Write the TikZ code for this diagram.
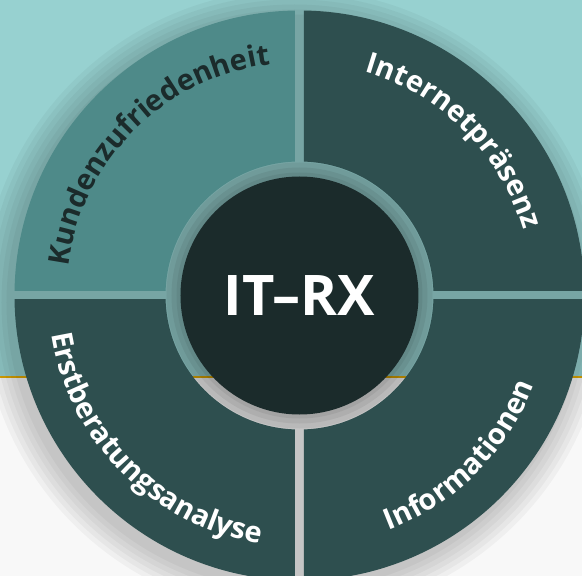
\documentclass[tikz,border=0pt]{standalone}
\usepackage{fontspec}
\setmainfont{Open Sans}
\usetikzlibrary{decorations.text}

\definecolor{bgteal}{HTML}{97D1D0}
\definecolor{paper}{HTML}{F8F8F8}
\definecolor{goldline}{HTML}{E0A800}
\definecolor{quadlight}{HTML}{4E8A89}
\definecolor{quaddark}{HTML}{2E4F4F}
\definecolor{hubcol}{HTML}{1B2B2B}

\newcommand\ringfont{\bfseries\fontsize{29pt}{29pt}\selectfont}

\tikzset{
  hub/.style={circle, fill=hubcol, minimum size=238pt, inner sep=0pt, text=white,
    font=\bfseries\fontsize{56pt}{56pt}\selectfont},
  ringtext/.style={decorate, decoration={text along path, text align=center, text color=#1}}
}

\begin{document}
\begin{tikzpicture}[x=1pt, y=1pt]
                \useasboundingbox (-299.5,-280.5) rectangle (282.5,295.5);
                \clip (-299.5,-280.5) rectangle (282.5,295.5);

                % --------
                % Background
                % --------
                \fill[bgteal] (-299.5,-81.5) rectangle (282.5,295.5);
                \fill[paper] (-299.5,-280.5) rectangle (282.5,-81.5);
                \draw[goldline, line width=2.5pt] (-299.5,-81.5) -- (282.5,-81.5);

                % soft shadow under the wheel
                \foreach \r in {313,308,...,288}
                    \fill[black, opacity=0.035] (-5,-7) circle[radius=\r pt];
                \foreach \r in {133,128,123}
                    \fill[black, opacity=0.06] (0,0) circle[radius=\r pt];

                % --------
                % Quadrants
                % --------
                \foreach \sx/\sy/\col in {-1/1/quadlight, 1/1/quaddark, -1/-1/quaddark, 1/-1/quaddark} {
                    \begin{scope}
                        \clip (\sx*4.5, \sy*4.5) rectangle (\sx*300, \sy*300);
                        \fill[\col, even odd rule] (0,0) circle[radius=285pt] (0,0) circle[radius=134pt];
                    \end{scope}
                }

                % Labels on the ring
                \path[ringtext=hubcol, decoration={text={|\ringfont|Kundenzufriedenheit}}]
                    (180:233) arc[start angle=180, end angle=90, radius=233pt];
                \path[ringtext=white, decoration={text={|\ringfont|Internetpräsenz}}]
                    (90:233) arc[start angle=90, end angle=0, radius=233pt];
                \path[ringtext=white, decoration={text={|\ringfont|Erstberatungsanalyse}}]
                    (180:251) arc[start angle=180, end angle=270, radius=251pt];
                \path[ringtext=white, decoration={text={|\ringfont|Informationen}}]
                    (270:251) arc[start angle=270, end angle=360, radius=251pt];

                % Hub
                \node[hub] at (0, 0) (hub) {IT–RX};
\end{tikzpicture}
\end{document}
